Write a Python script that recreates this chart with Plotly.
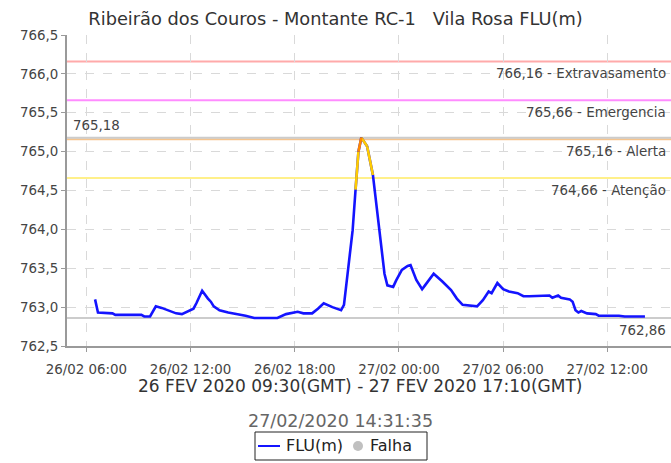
import plotly.graph_objects as go

# leituras do nível (hora local)
times = [
    "2020-02-26 06:30", "2020-02-26 06:40", "2020-02-26 07:30", "2020-02-26 07:40",
    "2020-02-26 09:10", "2020-02-26 09:20", "2020-02-26 09:40", "2020-02-26 10:00",
    "2020-02-26 10:20", "2020-02-26 10:40", "2020-02-26 11:10", "2020-02-26 11:30",
    "2020-02-26 11:50", "2020-02-26 12:10", "2020-02-26 12:20", "2020-02-26 12:40",
    "2020-02-26 13:00", "2020-02-26 13:10", "2020-02-26 13:20", "2020-02-26 13:40",
    "2020-02-26 14:10", "2020-02-26 14:40", "2020-02-26 15:10", "2020-02-26 15:40",
    "2020-02-26 17:00", "2020-02-26 17:30", "2020-02-26 18:00", "2020-02-26 18:10",
    "2020-02-26 18:30", "2020-02-26 19:00", "2020-02-26 19:20", "2020-02-26 19:40",
    "2020-02-26 20:10", "2020-02-26 20:30", "2020-02-26 20:40", "2020-02-26 20:50",
    "2020-02-26 21:00", "2020-02-26 21:20", "2020-02-26 21:30", "2020-02-26 21:40",
    "2020-02-26 21:50", "2020-02-26 22:10", "2020-02-26 22:30", "2020-02-26 22:50",
    "2020-02-26 23:10", "2020-02-26 23:20", "2020-02-26 23:40", "2020-02-26 23:50",
    "2020-02-27 00:10", "2020-02-27 00:30", "2020-02-27 00:40", "2020-02-27 01:00",
    "2020-02-27 01:20", "2020-02-27 01:30", "2020-02-27 02:00", "2020-02-27 02:30",
    "2020-02-27 03:00", "2020-02-27 03:20", "2020-02-27 03:40", "2020-02-27 04:30",
    "2020-02-27 04:50", "2020-02-27 05:10", "2020-02-27 05:20", "2020-02-27 05:40",
    "2020-02-27 06:00", "2020-02-27 06:20", "2020-02-27 06:50", "2020-02-27 07:10",
    "2020-02-27 07:30", "2020-02-27 08:40", "2020-02-27 08:50", "2020-02-27 09:10",
    "2020-02-27 09:20", "2020-02-27 09:50", "2020-02-27 10:00", "2020-02-27 10:10",
    "2020-02-27 10:20", "2020-02-27 10:30", "2020-02-27 10:50", "2020-02-27 11:20",
    "2020-02-27 11:30", "2020-02-27 12:40", "2020-02-27 13:00", "2020-02-27 14:10",
]
levels = [
    763.10, 762.93, 762.92, 762.90,
    762.90, 762.88, 762.88, 763.01,
    762.99, 762.96, 762.92, 762.91,
    762.95, 762.98, 763.05, 763.21,
    763.11, 763.07, 763.01, 762.96,
    762.93, 762.91, 762.89, 762.86,
    762.86, 762.91, 762.94, 762.94,
    762.92, 762.92, 762.98, 763.05,
    763.00, 762.97, 762.96, 763.03,
    763.35, 763.99, 764.51, 765.00,
    765.18, 765.07, 764.70, 764.03,
    763.43, 763.28, 763.26, 763.34,
    763.48, 763.53, 763.54, 763.35,
    763.23, 763.28, 763.43, 763.33,
    763.22, 763.11, 763.03, 763.01,
    763.09, 763.20, 763.18, 763.31,
    763.23, 763.20, 763.18, 763.14,
    763.14, 763.15, 763.12, 763.15,
    763.12, 763.10, 763.07, 762.96,
    762.93, 762.95, 762.92, 762.91,
    762.89, 762.89, 762.88, 762.88,
]

# cotas de referência
limit_values = [766.16, 765.66, 765.16, 764.66]
limit_names = ["Extravasamento", "Emergencia", "Alerta", "Atenção"]
limit_colors = ["#ffaaaa", "#ff8cff", "#f5c48e", "#fff08a"]

max_level = 765.18
min_level = 762.86

FONT = "DejaVu Sans, Verdana, sans-serif"
W, H = 671, 463
ML, MR, MT, MB = 67, 0, 35, 117
PW, PH = W - ML - MR, H - MT - MB


def fmt(v):
    return f"{v:.2f}".replace(".", ",")


def px(x):  # pixel -> paper x
    return (x - ML) / PW


def py(y):  # pixel -> paper y
    return (H - MB - y) / PH


fig = go.Figure()

fig.add_trace(go.Scatter(
    x=times, y=levels, mode="lines", name="FLU(m)",
    line=dict(color="#1414ff", width=2.6),
    hoverinfo="x+y", showlegend=False,
))

# trechos acima das cotas de atenção / alerta
yellow_x, yellow_y, orange_x, orange_y = [], [], [], []
for i in range(1, len(levels)):
    v = levels[i]
    if v >= limit_values[2]:
        orange_x += [times[i - 1], times[i], None]
        orange_y += [levels[i - 1], v, None]
    elif v >= limit_values[3]:
        yellow_x += [times[i - 1], times[i], None]
        yellow_y += [levels[i - 1], v, None]

fig.add_trace(go.Scatter(x=yellow_x, y=yellow_y, mode="lines", showlegend=False,
                         line=dict(color="#ffcc00", width=2.6), hoverinfo="skip"))
fig.add_trace(go.Scatter(x=orange_x, y=orange_y, mode="lines", showlegend=False,
                         line=dict(color="#ff8800", width=2.6), hoverinfo="skip"))

shapes = []
annotations = []
for v, name, c in zip(limit_values, limit_names, limit_colors):
    shapes.append(dict(type="line", xref="paper", x0=0, x1=1, yref="y", y0=v, y1=v,
                       line=dict(color=c, width=2), layer="between"))
    annotations.append(dict(xref="paper", x=1, xanchor="right", xshift=-3,
                            yref="y", y=v, yanchor="top", yshift=-3,
                            text=f"{fmt(v)} - {name}", showarrow=False,
                            font=dict(size=13.4, color="#444", family=FONT)))

for v in (max_level, min_level):
    shapes.append(dict(type="line", xref="paper", x0=0, x1=1, yref="y", y0=v, y1=v,
                       line=dict(color="#cccccc", width=2), layer="between"))

annotations.append(dict(xref="paper", x=0, xanchor="left", xshift=4,
                        yref="y", y=max_level, yanchor="bottom", yshift=3,
                        text=fmt(max_level), showarrow=False,
                        font=dict(size=13.4, color="#444", family=FONT)))
annotations.append(dict(xref="paper", x=1, xanchor="right", xshift=-3,
                        yref="y", y=min_level, yanchor="top", yshift=-3,
                        text=fmt(min_level), showarrow=False,
                        font=dict(size=13.4, color="#444", family=FONT)))

annotations.append(dict(xref="paper", x=px(360), yref="paper", y=py(386), yanchor="middle",
                        text="26 FEV 2020 09:30(GMT) - 27 FEV 2020 17:10(GMT)",
                        showarrow=False, font=dict(size=17, color="#333", family=FONT)))
annotations.append(dict(xref="paper", x=px(340), yref="paper", y=py(421), yanchor="middle",
                        text="27/02/2020 14:31:35", showarrow=False,
                        font=dict(size=17.5, color="#666", family=FONT)))

# legenda desenhada à mão (caixa com FLU(m) e Falha)
shapes.append(dict(type="rect", xref="paper", yref="paper",
                   x0=px(255), x1=px(427), y0=py(460), y1=py(432),
                   line=dict(color="#222", width=1), fillcolor="white"))
shapes.append(dict(type="line", xref="paper", yref="paper",
                   x0=px(258), x1=px(280), y0=py(446), y1=py(446),
                   line=dict(color="#1414ff", width=2)))
shapes.append(dict(type="circle", xref="paper", yref="paper",
                   x0=px(353), x1=px(363), y0=py(451), y1=py(441),
                   line=dict(width=0), fillcolor="#c0c0c0"))
annotations.append(dict(xref="paper", x=px(284), xanchor="left", yref="paper", y=py(446),
                        yanchor="middle", text="FLU(m)", showarrow=False,
                        font=dict(size=16, color="#222", family=FONT)))
annotations.append(dict(xref="paper", x=px(368), xanchor="left", yref="paper", y=py(446),
                        yanchor="middle", text="Falha", showarrow=False,
                        font=dict(size=16, color="#222", family=FONT)))

axis_common = dict(
    showgrid=True, gridcolor="#d9d9d9", griddash="dash", gridwidth=1,
    showline=True, linecolor="#9a9a9a", linewidth=2,
    ticks="outside", ticklen=4, tickcolor="#9a9a9a",
    tickfont=dict(size=13.4, color="#444", family=FONT),
    zeroline=False,
)

fig.update_layout(
    width=W, height=H,
    margin=dict(l=ML, r=MR, t=MT, b=MB),
    paper_bgcolor="white", plot_bgcolor="white",
    separators=",.",
    font=dict(family=FONT, color="#333"),
    title=dict(text="Ribeirão dos Couros - Montante RC-1   Vila Rosa FLU(m)",
               x=0.5, xref="container", xanchor="center",
               y=1 - 19 / H, yref="container", yanchor="middle",
               font=dict(size=17.8, color="#333", family=FONT)),
    xaxis=dict(axis_common, type="date",
               range=["2020-02-26 04:53", "2020-02-27 15:40"],
               tick0="2020-02-26 00:00", dtick=6 * 3600 * 1000,
               tickformat="%d/%m %H:%M", ticklabelstandoff=6),
    yaxis=dict(axis_common, range=[762.5, 766.5], dtick=0.5, tickformat=".1f"),
    shapes=shapes,
    annotations=annotations,
    showlegend=False,
)

fig.write_html("out.html", config={"displayModeBar": False},
               post_script="document.body.style.margin='0';")
